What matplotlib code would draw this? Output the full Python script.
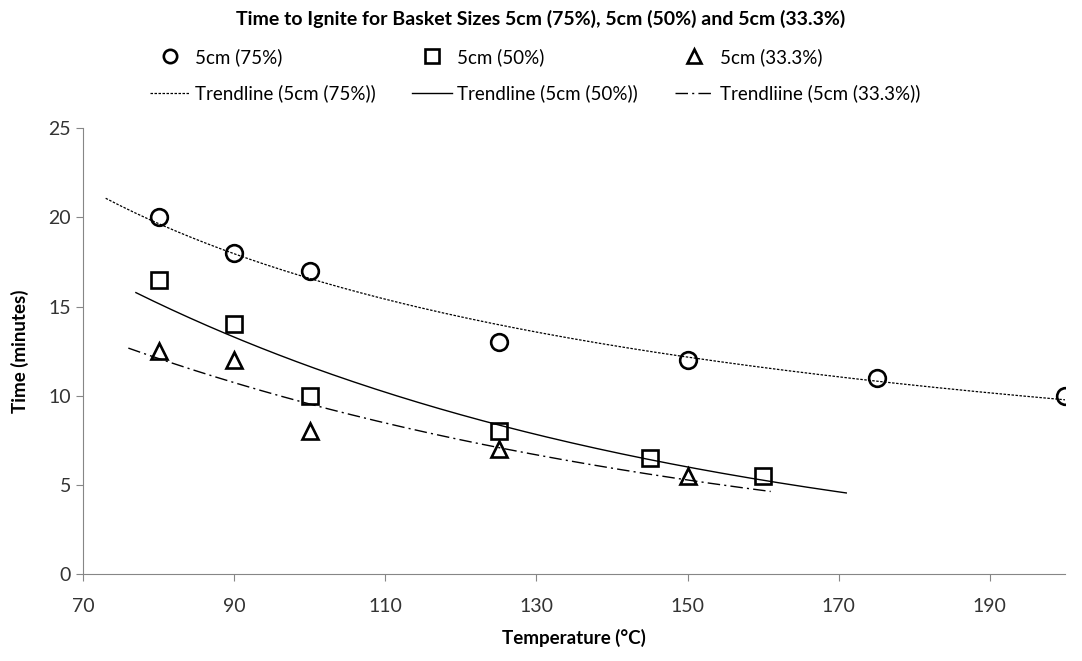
import numpy as np
import matplotlib
matplotlib.use("Agg")
import matplotlib.pyplot as plt

plt.rcParams['font.family'] = ['Lato', 'DejaVu Sans']

# data
temp_75 = [80, 90, 100, 125, 150, 175, 200]
time_75 = [20, 18, 17, 13, 12, 11, 10]
temp_50 = [80, 90, 100, 125, 145, 160]
time_50 = [16.5, 14, 10, 8, 6.5, 5.5]
temp_33 = [80, 90, 100, 125, 150]
time_33 = [12.5, 12, 8, 7, 5.5]

# trendline x extents (Excel forecast range)
trend_range_75 = (73, 200)
trend_range_50 = (77, 171)
trend_range_33 = (76, 161)


def power_trend(xs, ys, xr):
    b, a = np.polyfit(np.log(xs), np.log(ys), 1)
    xx = np.linspace(xr[0], xr[1], 200)
    return xx, np.exp(a) * xx ** b


def exp_trend(xs, ys, xr):
    k, a = np.polyfit(xs, np.log(ys), 1)
    xx = np.linspace(xr[0], xr[1], 200)
    return xx, np.exp(a + k * xx)


fig = plt.figure(figsize=(10.82, 6.61), dpi=100)
ax = fig.add_axes([0.0767, 0.1316, 0.908, 0.6745])

mk = dict(linestyle='none', markerfacecolor='none', markeredgecolor='black',
          markeredgewidth=1.9, markersize=12)
h1, = ax.plot(temp_75, time_75, marker='o', label='5cm (75%)', **mk)
h2, = ax.plot(temp_50, time_50, marker='s', label='5cm (50%)', **mk)
h3, = ax.plot(temp_33, time_33, marker='^', label='5cm (33.3%)', **mk)

x, y = power_trend(temp_75, time_75, trend_range_75)
t1, = ax.plot(x, y, color='black', lw=0.9, linestyle=(0, (2, 1.2)), label='Trendline (5cm (75%))')
x, y = exp_trend(temp_50, time_50, trend_range_50)
t2, = ax.plot(x, y, color='black', lw=1.0, linestyle='-', label='Trendline (5cm (50%))')
x, y = exp_trend(temp_33, time_33, trend_range_33)
t3, = ax.plot(x, y, color='black', lw=1.0, linestyle=(0, (9, 3, 1.5, 3)), label='Trendliine (5cm (33.3%))')

ax.set_xlim(70, 200)
ax.set_ylim(0, 25)
ax.set_xticks(range(70, 200, 20))
ax.set_yticks(range(0, 26, 5))
for s in ['top', 'right']:
    ax.spines[s].set_visible(False)
for s in ['left', 'bottom']:
    ax.spines[s].set_color('#868686')
ax.tick_params(colors='#868686', labelcolor='#333333', labelsize=14, length=5, direction='out')
ax.tick_params(axis='x', pad=12)

ax.set_xlabel('Temperature (°C)', fontsize=13.5, fontweight='bold', labelpad=10)
ax.set_ylabel('Time (minutes)', fontsize=13.5, fontweight='bold', labelpad=14)

fig.suptitle('Time to Ignite for Basket Sizes 5cm (75%), 5cm (50%) and 5cm (33.3%)',
             fontsize=14, fontweight='bold', y=0.985)

hs = [h1, t1, h2, t2, h3, t3]
fig.legend(hs, [h.get_label() for h in hs],
           ncol=3, loc='upper left', bbox_to_anchor=(150 / 1082, 1 - 48 / 661),
           frameon=False, borderpad=0, borderaxespad=0,
           prop={'size': 13.5}, handlelength=2.1, handletextpad=0.3,
           columnspacing=1.95, markerscale=0.8, labelspacing=1.0)

fig.savefig('out.png', dpi=100)
